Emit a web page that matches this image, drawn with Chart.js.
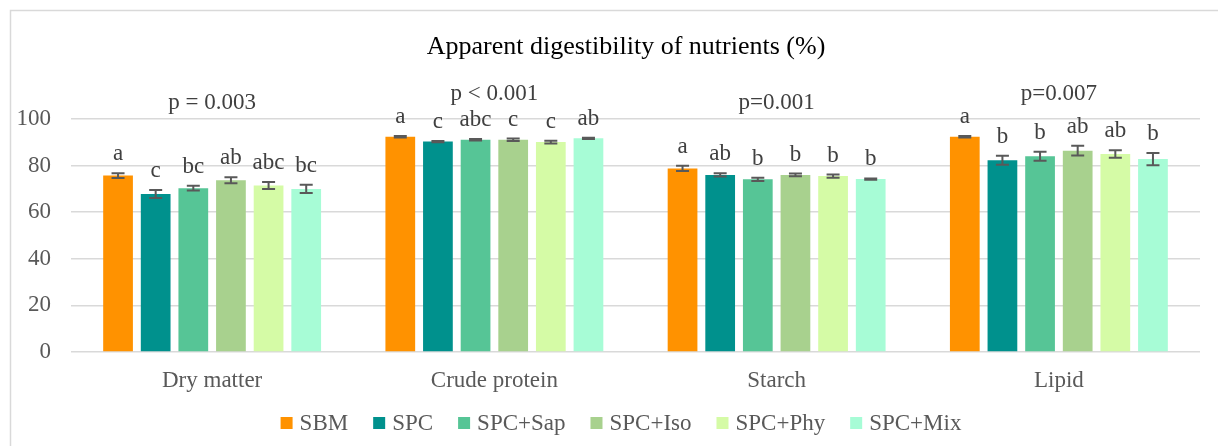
<!DOCTYPE html>
<html>
<head>
<meta charset="utf-8">
<script src="https://cdn.jsdelivr.net/npm/chart.js@4/dist/chart.umd.min.js"></script>
<style>
  body { margin: 0; background: #fff; }
  canvas { display: block; }
</style>
</head>
<body>
<canvas id="chart" width="1218" height="446"></canvas>
<script>
const categories = ['Dry matter', 'Crude protein', 'Starch', 'Lipid'];
const treatments = ['SBM', 'SPC', 'SPC+Sap', 'SPC+Iso', 'SPC+Phy', 'SPC+Mix'];
const colors = ['#ff9200', '#00918d', '#56c596', '#a8d18e', '#d5fba6', '#a7fcd6'];

// mean digestibility (%) per nutrient
const sbm = [75.7, 92.4, 78.8, 92.4];
const spc = [67.8, 90.3, 76.0, 82.3];
const spcSap = [70.3, 91.1, 74.1, 84.0];
const spcIso = [73.7, 91.1, 76.0, 86.4];
const spcPhy = [71.5, 90.1, 75.5, 85.0];
const spcMix = [70.0, 91.7, 74.2, 82.8];

// standard errors
const sbmErr = [1.0, 0.3, 1.1, 0.3];
const spcErr = [1.7, 0.3, 0.7, 1.9];
const spcSapErr = [1.0, 0.3, 0.7, 1.9];
const spcIsoErr = [1.3, 0.5, 0.6, 2.1];
const spcPhyErr = [1.5, 0.6, 0.7, 1.6];
const spcMixErr = [1.8, 0.3, 0.3, 2.6];

// significance letters
const sbmLetters = ['a', 'a', 'a', 'a'];
const spcLetters = ['c', 'c', 'ab', 'b'];
const spcSapLetters = ['bc', 'abc', 'b', 'b'];
const spcIsoLetters = ['ab', 'c', 'b', 'ab'];
const spcPhyLetters = ['abc', 'c', 'b', 'ab'];
const spcMixLetters = ['bc', 'ab', 'b', 'b'];

const pValues = ['p = 0.003', 'p < 0.001', 'p=0.001', 'p=0.007'];
const yTicks = [0, 20, 40, 60, 80, 100];

const values = [sbm, spc, spcSap, spcIso, spcPhy, spcMix];
const errors = [sbmErr, spcErr, spcSapErr, spcIsoErr, spcPhyErr, spcMixErr];
const letters = [sbmLetters, spcLetters, spcSapLetters, spcIsoLetters, spcPhyLetters, spcMixLetters];

const FONT = '"Liberation Serif", "Times New Roman", serif';
const GREY = '#595959';

const extras = {
  id: 'extras',
  beforeDraw(chart) {
    const { ctx } = chart;
    ctx.save();
    ctx.fillStyle = '#fff';
    ctx.fillRect(0, 0, chart.width, chart.height);
    ctx.strokeStyle = '#d9d9d9';
    ctx.lineWidth = 1.5;
    ctx.strokeRect(10.5, 10.5, chart.width + 20, chart.height + 20);
    ctx.restore();
  },
  afterDatasetsDraw(chart) {
    const { ctx, scales: { x, y } } = chart;
    ctx.save();
    // error bars + letters
    const groupTop = categories.map(() => Infinity);
    values.forEach((vals, i) => {
      const meta = chart.getDatasetMeta(i);
      meta.data.forEach((bar, j) => {
        const hi = y.getPixelForValue(vals[j] + errors[i][j]);
        const lo = y.getPixelForValue(vals[j] - errors[i][j]);
        ctx.strokeStyle = '#595959';
        ctx.lineWidth = 2;
        ctx.beginPath();
        ctx.moveTo(bar.x, hi); ctx.lineTo(bar.x, lo);
        ctx.moveTo(bar.x - 6.5, hi); ctx.lineTo(bar.x + 6.5, hi);
        ctx.moveTo(bar.x - 6.5, lo); ctx.lineTo(bar.x + 6.5, lo);
        ctx.stroke();
        ctx.fillStyle = '#404040';
        ctx.font = '23px ' + FONT;
        ctx.textAlign = 'center';
        ctx.textBaseline = 'middle';
        ctx.fillText(letters[i][j], bar.x, hi - 19);
        groupTop[j] = Math.min(groupTop[j], hi);
      });
    });
    // p-values
    const top100 = y.getPixelForValue(100);
    pValues.forEach((p, j) => {
      const py = Math.min(top100 - 16, groupTop[j] - 42);
      ctx.fillStyle = '#404040';
      ctx.font = '23px ' + FONT;
      ctx.textAlign = 'center';
      ctx.textBaseline = 'middle';
      ctx.fillText(p, x.getPixelForValue(j), py);
    });
    // title
    ctx.fillStyle = '#000';
    ctx.font = '26px ' + FONT;
    ctx.fillText('Apparent digestibility of nutrients (%)', 626, 47);
    // legend
    ctx.font = '23px ' + FONT;
    const box = 12, gap = 7, spacing = 25;
    const widths = treatments.map(t => box + gap + ctx.measureText(t).width);
    const total = widths.reduce((a, b) => a + b, 0) + spacing * (treatments.length - 1);
    let lx = 621 - total / 2;
    const ly = 423;
    treatments.forEach((t, i) => {
      ctx.fillStyle = colors[i];
      ctx.fillRect(lx, ly - box / 2, box, box);
      ctx.fillStyle = GREY;
      ctx.textAlign = 'left';
      ctx.fillText(t, lx + box + gap, ly + 1);
      lx += widths[i] + spacing;
    });
    ctx.restore();
  }
};

new Chart(document.getElementById('chart'), {
  type: 'bar',
  data: {
    labels: categories,
    datasets: treatments.map((t, i) => ({
      label: t,
      data: values[i],
      backgroundColor: colors[i],
      borderWidth: 0,
      categoryPercentage: 0.8,
      barPercentage: 0.79,
    })),
  },
  options: {
    responsive: false,
    animation: false,
    layout: { padding: { top: 119, right: 18, bottom: 34, left: 0 } },
    plugins: {
      legend: { display: false },
      title: { display: false },
      tooltip: { enabled: false },
    },
    scales: {
      x: {
        grid: { display: false },
        border: { display: false },
        ticks: { color: GREY, font: { family: FONT, size: 23 }, padding: 7 },
        afterFit(scale) { scale.height = 60; },
      },
      y: {
        min: 0,
        max: 100,
        afterBuildTicks(scale) { scale.ticks = yTicks.map(v => ({ value: v })); },
        grid: { color: '#d9d9d9', lineWidth: 1.5, drawTicks: false },
        border: { display: false },
        ticks: { color: GREY, font: { family: FONT, size: 23 }, padding: 20 },
        afterFit(scale) { scale.width = 71; },
      },
    },
  },
  plugins: [extras],
});
</script>
</body>
</html>
